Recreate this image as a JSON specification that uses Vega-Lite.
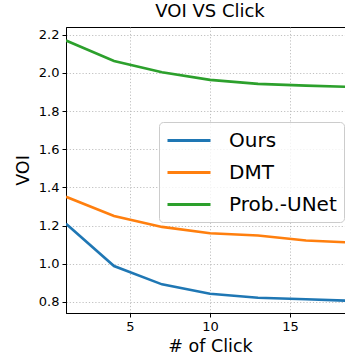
{
  "$schema": "https://vega.github.io/schema/vega-lite/v6.json",
  "autosize": "none",
  "padding": {"left": 66, "top": 27, "right": 0, "bottom": 43},
  "width": 288,
  "height": 286,
  "title": {"text": "VOI VS Click", "font": "DejaVu Sans", "fontSize": 18, "fontWeight": "normal", "color": "black", "offset": 6},
  "config": {
    "view": {"stroke": "black", "strokeWidth": 1},
    "font": "DejaVu Sans"
  },
  "data": {"values": [
    {"click": 1, "voi": 1.21, "method": "Ours"},
    {"click": 4, "voi": 0.988, "method": "Ours"},
    {"click": 7, "voi": 0.892, "method": "Ours"},
    {"click": 10, "voi": 0.843, "method": "Ours"},
    {"click": 13, "voi": 0.822, "method": "Ours"},
    {"click": 16, "voi": 0.814, "method": "Ours"},
    {"click": 19, "voi": 0.805, "method": "Ours"},
    {"click": 1, "voi": 1.351, "method": "DMT"},
    {"click": 4, "voi": 1.25, "method": "DMT"},
    {"click": 7, "voi": 1.193, "method": "DMT"},
    {"click": 10, "voi": 1.16, "method": "DMT"},
    {"click": 13, "voi": 1.148, "method": "DMT"},
    {"click": 16, "voi": 1.122, "method": "DMT"},
    {"click": 19, "voi": 1.11, "method": "DMT"},
    {"click": 1, "voi": 2.169, "method": "Prob.-UNet"},
    {"click": 4, "voi": 2.062, "method": "Prob.-UNet"},
    {"click": 7, "voi": 2.003, "method": "Prob.-UNet"},
    {"click": 10, "voi": 1.963, "method": "Prob.-UNet"},
    {"click": 13, "voi": 1.942, "method": "Prob.-UNet"},
    {"click": 16, "voi": 1.933, "method": "Prob.-UNet"},
    {"click": 19, "voi": 1.926, "method": "Prob.-UNet"}
  ]},
  "mark": {"type": "line", "strokeWidth": 2.6, "clip": true},
  "encoding": {
    "x": {
      "field": "click", "type": "quantitative",
      "scale": {"domain": [1, 19], "nice": false, "zero": false},
      "axis": {
        "title": "# of Click", "titleFontSize": 17.5, "titleFontWeight": "normal", "titleColor": "black", "titlePadding": 4,
        "values": [5, 10, 15], "labelFontSize": 13, "labelColor": "black", "labelPadding": 3,
        "tickColor": "black", "tickSize": 4, "domainColor": "black",
        "grid": true, "gridColor": "#b0b0b0", "gridDash": [1.2, 2], "gridWidth": 0.8
      }
    },
    "y": {
      "field": "voi", "type": "quantitative",
      "scale": {"domain": [0.742, 2.24], "nice": false, "zero": false},
      "axis": {
        "title": "VOI", "titleFontSize": 17.5, "titleFontWeight": "normal", "titleColor": "black", "titlePadding": 6,
        "values": [0.8, 1.0, 1.2, 1.4, 1.6, 1.8, 2.0, 2.2], "format": ".1f",
        "labelFontSize": 13, "labelColor": "black", "labelPadding": 3,
        "tickColor": "black", "tickSize": 4, "domainColor": "black",
        "grid": true, "gridColor": "#b0b0b0", "gridDash": [1.2, 2], "gridWidth": 0.8
      }
    },
    "color": {
      "field": "method", "type": "nominal",
      "scale": {"domain": ["Ours", "DMT", "Prob.-UNet"], "range": ["#1f77b4", "#ff7f0e", "#2ca02c"]},
      "legend": {
        "title": null, "orient": "none", "legendX": 93, "legendY": 95,
        "symbolType": "M-1,0H3.3", "symbolSize": 400, "symbolStrokeWidth": 3,
        "labelFontSize": 20, "labelColor": "black", "labelOffset": 40,
        "rowPadding": 10, "padding": 7,
        "fillColor": "rgba(255,255,255,0.8)", "strokeColor": "#cccccc", "cornerRadius": 4
      }
    }
  }
}
